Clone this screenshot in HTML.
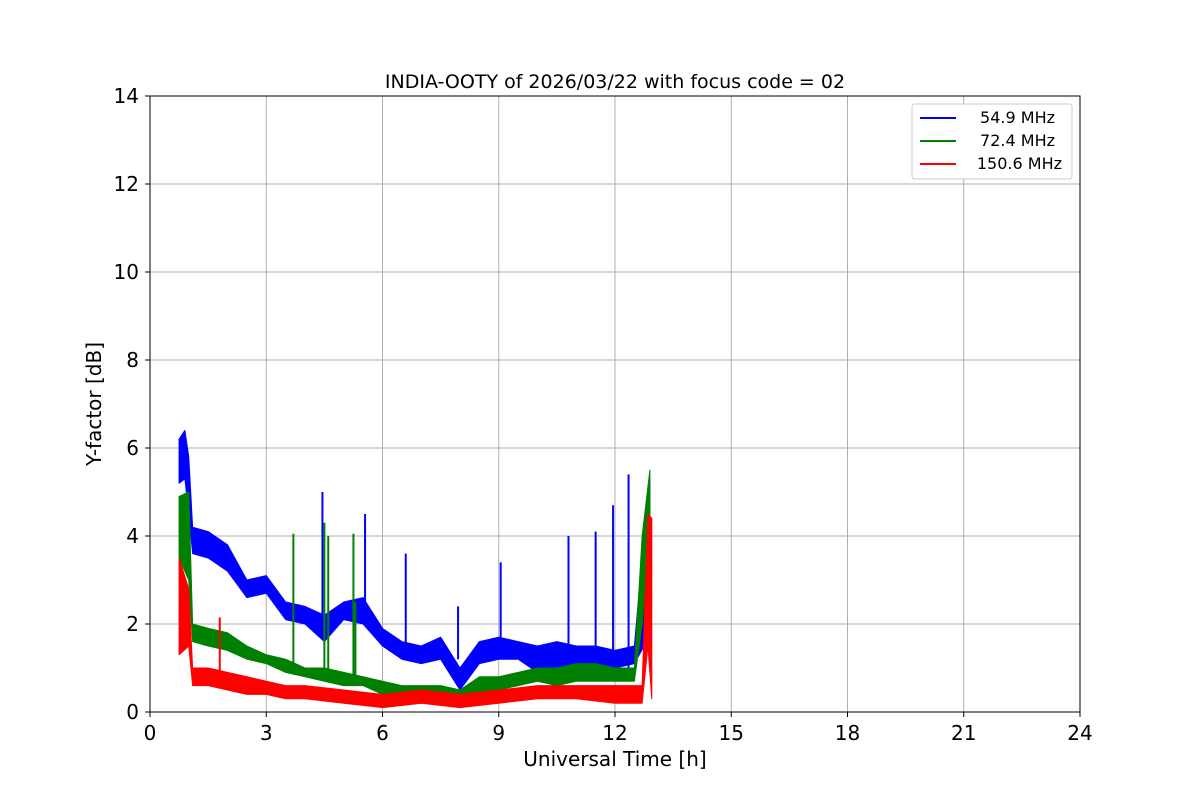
<!DOCTYPE html>
<html><head><meta charset="utf-8"><style>
body{margin:0;background:#fff;font-family:"Liberation Sans","DejaVu Sans",sans-serif}
</style></head><body>
<svg id="chart" width="1200" height="800" xmlns="http://www.w3.org/2000/svg" font-family="DejaVu Sans, Liberation Sans, sans-serif">
<rect width="1200" height="800" fill="#fff"/>
<g id="grid"></g>
<g id="series"></g>
<rect x="150" y="96" width="930" height="616" fill="none" stroke="#000" stroke-width="1"/>
<g id="ticks"></g>
<text x="615" y="88" text-anchor="middle" font-size="19">INDIA-OOTY of 2026/03/22 with focus code = 02</text>
<text x="615" y="766" text-anchor="middle" font-size="20">Universal Time [h]</text>
<text transform="translate(101,404) rotate(-90)" text-anchor="middle" font-size="20">Y-factor [dB]</text>
<g>
<rect x="912" y="104" width="160" height="75" rx="3" fill="#fff" stroke="#ccc"/>
<g><line x1="920" x2="956" y1="118" y2="118" stroke="#0000ff" stroke-width="2"/><text x="1055" y="123" text-anchor="end" font-size="16">54.9 MHz</text></g>
<g><line x1="920" x2="956" y1="141" y2="141" stroke="#008000" stroke-width="2"/><text x="1055" y="146" text-anchor="end" font-size="16">72.4 MHz</text></g>
<g><line x1="920" x2="956" y1="164" y2="164" stroke="#ff0000" stroke-width="2"/><text x="1062" y="169" text-anchor="end" font-size="16">150.6 MHz</text></g>
</g>
</svg>
<script>
const xTicks=[0,3,6,9,12,15,18,21,24];
const yTicks=[0,2,4,6,8,10,12,14];
const blueT=[0.75,0.9,1.0,1.1,1.5,2.0,2.5,3.0,3.5,4.0,4.5,5.0,5.5,6.0,6.5,7.0,7.5,8.0,8.5,9.0,9.5,10.0,10.5,11.0,11.5,12.0,12.5,12.75,12.9];
const blueLo=[5.2,5.3,4.5,3.6,3.5,3.2,2.6,2.7,2.1,2.0,1.6,2.1,2.0,1.5,1.2,1.1,1.2,0.5,1.1,1.2,1.2,0.9,1.0,1.0,1.0,1.0,1.1,1.5,3.5];
const blueHi=[6.2,6.4,5.8,4.2,4.1,3.8,3.0,3.1,2.5,2.4,2.2,2.5,2.6,1.9,1.6,1.5,1.7,1.0,1.6,1.7,1.6,1.5,1.6,1.5,1.5,1.4,1.5,4.0,5.3];
const blueSpikeT=[4.45,5.55,6.6,7.95,9.05,10.8,11.5,11.95,12.35];
const blueSpikeV=[5.0,4.5,3.6,2.4,3.4,4.0,4.1,4.7,5.4];
const greenT=[0.75,1.0,1.1,1.5,2,2.5,3,3.5,4,4.5,5,5.5,6,6.5,7,7.5,8,8.5,9,9.5,10,10.5,11,11.5,12,12.5,12.7,12.9];
const greenLo=[3.5,3.0,1.6,1.5,1.4,1.2,1.1,0.9,0.8,0.7,0.6,0.6,0.4,0.3,0.3,0.3,0.2,0.4,0.5,0.6,0.7,0.6,0.7,0.7,0.7,0.7,2.0,4.0];
const greenHi=[4.9,5.0,2.0,1.9,1.8,1.5,1.3,1.2,1.0,1.0,0.9,0.8,0.7,0.6,0.6,0.6,0.5,0.8,0.8,0.9,1.0,1.0,1.1,1.1,1.0,1.0,4.0,5.5];
const greenSpikeT=[3.7,4.5,4.6,5.25,5.3];
const greenSpikeV=[4.05,4.3,4.0,4.05,2.5];
const redT=[0.75,1.0,1.1,1.5,2,2.5,3,3.5,4,5,6,7,8,9,10,11,12,12.7,12.85,12.95];
const redLo=[1.3,1.5,0.6,0.6,0.5,0.4,0.4,0.3,0.3,0.2,0.1,0.2,0.1,0.2,0.3,0.3,0.2,0.2,1.5,0.3];
const redHi=[3.5,2.8,1.0,1.0,0.9,0.8,0.7,0.6,0.6,0.5,0.4,0.5,0.4,0.5,0.6,0.6,0.6,0.6,4.5,4.4];
const redSpikeT=[1.8];
const redSpikeV=[2.15];
const NS='http://www.w3.org/2000/svg';
const X=t=>150+t*930/24, Y=v=>712-v*616/14;
const grid=document.getElementById('grid'),ticks=document.getElementById('ticks'),ser=document.getElementById('series');
function mk(tag,attrs,parent){const e=document.createElementNS(NS,tag);for(const k in attrs)e.setAttribute(k,attrs[k]);parent.appendChild(e);return e;}
xTicks.forEach(t=>{
 const g=mk('line',{x1:X(t),x2:X(t),y1:96,y2:712,stroke:'#b0b0b0','stroke-width':1},grid);
 
 
 mk('line',{x1:X(t),x2:X(t),y1:712,y2:717,stroke:'#000'},ticks);
 const tx=mk('text',{x:X(t),y:740,'text-anchor':'middle','font-size':20},ticks);tx.textContent=t;
 
 
});
yTicks.forEach(v=>{
 const g=mk('line',{x1:150,x2:1080,y1:Y(v),y2:Y(v),stroke:'#b0b0b0','stroke-width':1},grid);
 
 
 mk('line',{x1:145,x2:150,y1:Y(v),y2:Y(v),stroke:'#000'},ticks);
 const tx=mk('text',{x:139,y:Y(v)+7,'text-anchor':'end','font-size':20},ticks);tx.textContent=v;
 
 
});
function band(T,lo,hi,sT,sV,col,name){
 let pts=T.map((t,i)=>X(t)+','+Y(hi[i]));
 for(let i=T.length-1;i>=0;i--)pts.push(X(T[i])+','+Y(lo[i]));
 const p=mk('polygon',{points:pts.join(' '),fill:col,stroke:col,'stroke-width':1,'stroke-linejoin':'round'},ser);
 
 
 sT.forEach((t,i)=>{
  let j=0;while(j<T.length-1&&T[j+1]<t)j++;
  const base=lo[j];
  const l=mk('line',{x1:X(t),x2:X(t),y1:Y(base),y2:Y(sV[i]),stroke:col,'stroke-width':2},ser);
  
  
 });
}
band(blueT,blueLo,blueHi,blueSpikeT,blueSpikeV,'#0000ff','series-54.9');
band(greenT,greenLo,greenHi,greenSpikeT,greenSpikeV,'#008000','series-72.4');
band(redT,redLo,redHi,redSpikeT,redSpikeV,'#ff0000','series-150.6');
</script>
</body></html>
